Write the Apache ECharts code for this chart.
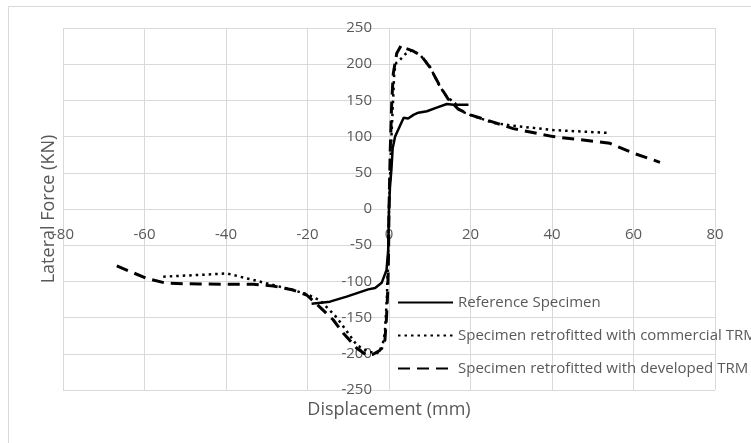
<!DOCTYPE html>
<html><head><meta charset="utf-8">
<script src="https://cdn.jsdelivr.net/npm/echarts@6/dist/echarts.min.js"></script>
<style>html,body{margin:0;padding:0;background:#fff}#c{width:751px;height:443px}</style>
</head><body><div id="c"></div>
<script>
var seriesNames = ['Reference Specimen','Specimen retrofitted with commercial TRM','Specimen retrofitted with developed TRM'];
var refX = [-19,-14.5,-10.4,-5.1,-3.4,-1.8,-0.6,-0.2,0,0.25,0.6,0.9,1.5,2.7,3.6,4.7,6,7.2,9.3,11.7,14.2,15.8,19.5];
var refY = [-131,-128,-121,-111,-109,-102,-84,-57,0,31,55,84,100,115,126,125,130,133,135,140,145,144,144];
var comX = [-55.4,-46.4,-39.8,-33.3,-28.4,-23.5,-20,-17,-14.5,-12.8,-7.9,-5.1,-3,-1.8,-1,-0.5,-0.2,0,0.3,0.6,1,1.3,1.8,2.7,4,5.6,7.6,10,12.5,14.2,16.2,17.4,19.9,25.6,30.5,40.3,54.2];
var comY = [-93.5,-91,-89,-98,-105,-112,-118,-126,-140,-150,-188,-197,-199,-195,-170,-120,-60,0,50,100,150,190,202,206,214,219,213,197,169,155,146,136,130,119,115,109,105];
var devX = [-66.8,-59.5,-54.6,-46.4,-38.2,-33.3,-28.4,-23.5,-20.2,-16.9,-13.7,-11.2,-7.9,-5.5,-4,-2.2,-1,-0.6,-0.3,-0.1,0,0.3,0.66,1.05,1.9,3,4,6,8,10,12.5,14.5,17,20,25,30.5,40.3,51,54.2,60,66.5];
var devY = [-78.7,-95.7,-102.6,-103.6,-104,-104,-106.4,-112,-118.8,-135.8,-153,-171.7,-192.4,-201.7,-201,-195,-181,-149,-112,-60,0,80,146,187,215,226,222,218,211,196,170,152,138,130,121,111,100,93,90.7,77,64.5];

function zip(a,b){return a.map(function(v,i){return [v,b[i]];});}
var FONT = 'Open Sans';
var TXT = '#595959';
var GRID = '#d9d9d9';
var chart = echarts.init(document.getElementById('c'), null, {renderer:'canvas'});
chart.setOption({
  animation:false,
  backgroundColor:'#fff',
  graphic:[{type:'rect',shape:{x:8.5,y:6.5,width:800,height:500},style:{fill:null,stroke:GRID,lineWidth:1},silent:true,z:-1}],
  grid:{left:63,right:36,top:28,bottom:53,containLabel:false,outerBoundsMode:'none'},
  xAxis:{type:'value',min:-80,max:80,interval:20,position:'bottom',offset:-181,
    name:'Displacement (mm)',nameLocation:'middle',nameGap:192,
    nameTextStyle:{color:TXT,fontFamily:FONT,fontSize:18},
    axisLine:{show:false,onZero:false},axisTick:{show:false},
    axisLabel:{color:TXT,fontFamily:FONT,fontSize:15,margin:18},
    splitLine:{show:true,lineStyle:{color:GRID,width:1}}},
  yAxis:{type:'value',min:-250,max:250,interval:50,position:'left',offset:-326,
    name:'Lateral Force (KN)',nameLocation:'middle',nameGap:331,
    nameTextStyle:{color:TXT,fontFamily:FONT,fontSize:18},
    axisLine:{show:false,onZero:false},axisTick:{show:false},
    axisLabel:{color:TXT,fontFamily:FONT,fontSize:15,margin:17},
    splitLine:{show:true,lineStyle:{color:GRID,width:1}}},
  legend:{orient:'vertical',left:397,top:295,padding:0,itemWidth:55,itemHeight:14,itemGap:18,
    itemStyle:{opacity:0},
    textStyle:{color:TXT,fontFamily:FONT,fontSize:15},
    data:seriesNames},
  series:[
    {name:seriesNames[0],type:'line',symbol:'none',data:zip(refX,refY),
      lineStyle:{color:'#000',width:2.5,type:'solid'},itemStyle:{color:'#000'}},
    {name:seriesNames[1],type:'line',symbol:'none',data:zip(comX,comY),
      lineStyle:{color:'#000',width:2.5,type:[2.5,4]},itemStyle:{color:'#000'}},
    {name:seriesNames[2],type:'line',symbol:'none',data:zip(devX,devY),
      lineStyle:{color:'#000',width:3,type:[12,7]},itemStyle:{color:'#000'}}
  ]
});
</script></body></html>
